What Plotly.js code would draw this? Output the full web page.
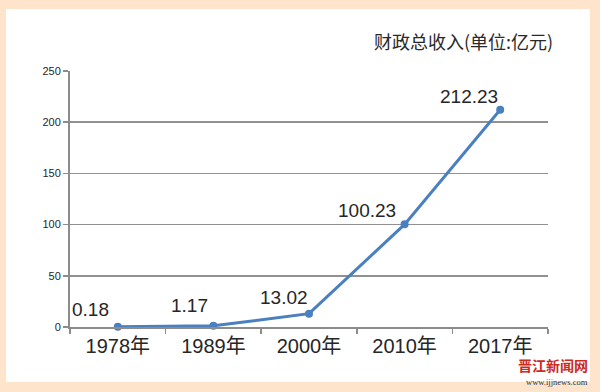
<!DOCTYPE html>
<html><head><meta charset="utf-8">
<script src="https://cdn.plot.ly/plotly-3.0.1.min.js"></script>
<style>html,body{margin:0;padding:0;}#c{width:600px;height:392px;}</style>
</head><body><div id="c"></div>
<script>
const categories = ["1978年", "1989年", "2000年", "2010年", "2017年"];
const revenue = [0.18, 1.17, 13.02, 100.23, 212.23];
const labelText = ["0.18", "1.17", "13.02", "100.23", "212.23"];
const yTicks = [0, 50, 100, 150, 200, 250];
const titleText = "财政总收入(单位:亿元)";

const FONT = "Liberation Sans, Arial, Noto Sans CJK SC, sans-serif";
const labelShift = [[-27, 17], [-24, 20], [-25, 16], [-38, 14], [-31, 13]];

const annotations = categories.map((c, i) => ({
  x: c, y: revenue[i], xref: "x", yref: "y", text: labelText[i], showarrow: false,
  xshift: labelShift[i][0], yshift: labelShift[i][1],
  font: {family: FONT, size: 19, color: "#262626"}
}));
annotations.push({
  xref: "paper", yref: "paper", x: 1.015, y: 1.118, xanchor: "right", yanchor: "middle",
  text: titleText, showarrow: false,
  font: {family: "Noto Sans CJK SC, sans-serif", size: 18, color: "#2a2a2a"}
});
annotations.push({
  xref: "paper", yref: "paper", x: 1.088, y: -0.148, xanchor: "right", yanchor: "middle",
  text: "<b>晋江新闻网</b>", showarrow: false,
  font: {family: "Noto Sans CJK SC, sans-serif", size: 14, color: "#cc2a1e"}
});
annotations.push({
  xref: "paper", yref: "paper", x: 1.088, y: -0.216, xanchor: "right", yanchor: "middle",
  text: "www.ijjnews.com", showarrow: false,
  font: {family: "Liberation Serif, serif", size: 8.5, color: "#333"}
});

const trace = {
  x: categories, y: revenue, type: "scatter", mode: "lines+markers",
  line: {color: "#4a7fc0", width: 3},
  marker: {color: "#4a7fc0", size: 8},
  hoverinfo: "skip", cliponaxis: false
};

const layout = {
  width: 600, height: 392,
  paper_bgcolor: "#fde4cb", plot_bgcolor: "rgba(0,0,0,0)",
  margin: {l: 70, r: 52, t: 71, b: 65},
  showlegend: false,
  shapes: [{type: "rect", xref: "paper", yref: "paper", layer: "below",
    x0: -64/478, x1: 520/478, y0: -55/256, y1: 318/256,
    fillcolor: "#ffffff", line: {width: 0}}],
  xaxis: {
    type: "category", range: [-0.5, 4.5], tickson: "boundaries", ticks: "outside", ticklen: 5,
    tickcolor: "#8c8c8c", tickwidth: 1.5,
    showline: true, linecolor: "#8c8c8c", linewidth: 2, showgrid: false,
    tickfont: {family: FONT, size: 20, color: "#262626"}, zeroline: false
  },
  yaxis: {
    range: [0, 250], tickvals: yTicks, ticks: "outside", ticklen: 5,
    tickcolor: "#8c8c8c", tickwidth: 1.5,
    showline: true, linecolor: "#8c8c8c", linewidth: 2,
    showgrid: true, gridcolor: "#919191", gridwidth: 1.5, zeroline: false,
    tickfont: {family: FONT, size: 11, color: "#262626"}
  },
  annotations: annotations
};

Plotly.newPlot("c", [trace], layout, {displayModeBar: false, staticPlot: true});
</script></body></html>
